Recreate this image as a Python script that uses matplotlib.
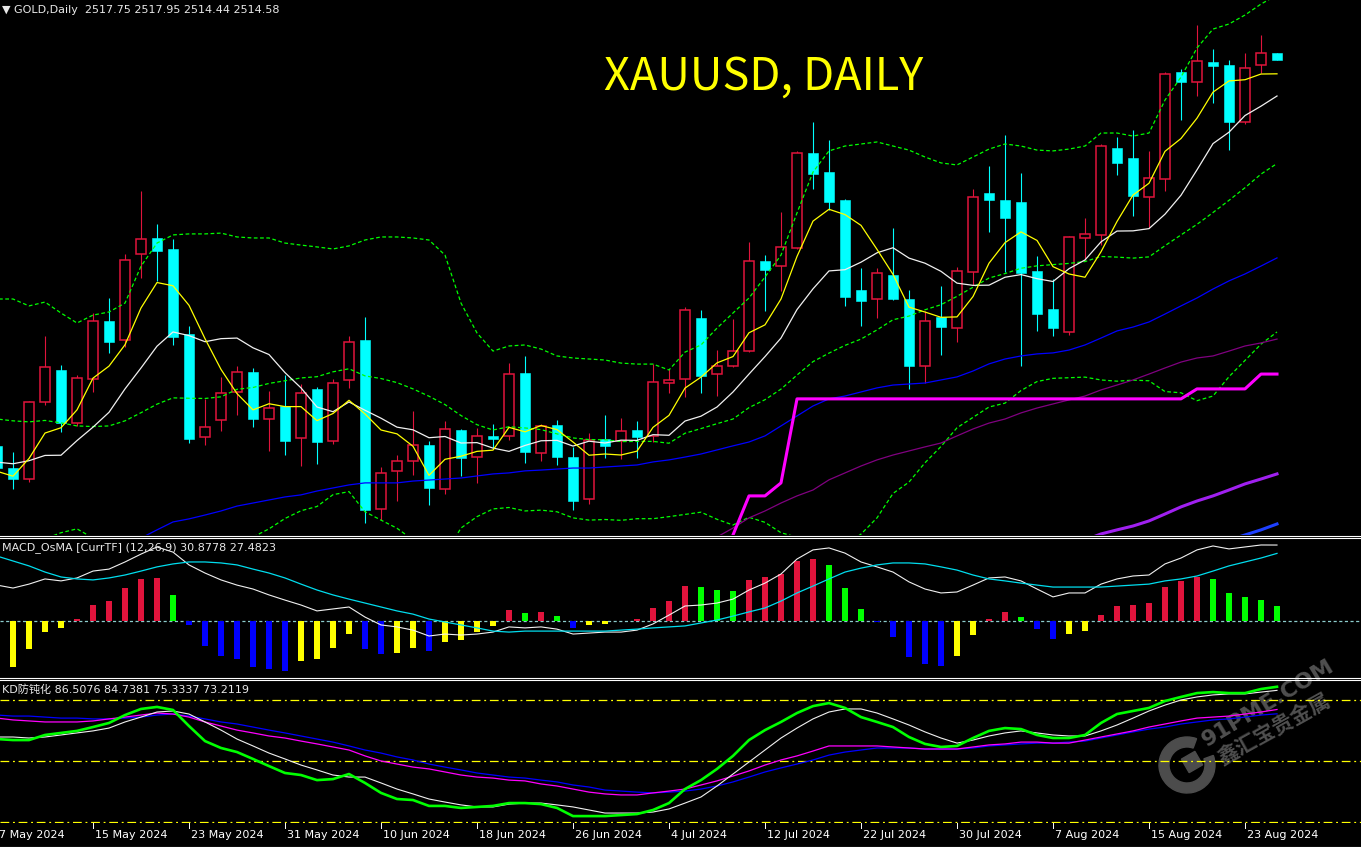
import numpy as np
import pandas as pd
import matplotlib
matplotlib.use("Agg")
import matplotlib.pyplot as plt
from matplotlib.lines import Line2D
from matplotlib.patches import Rectangle, Wedge, RegularPolygon

W, H = 1361, 848

# trading days shown on the chart, 7 May 2024 .. 27 Aug 2024 (bar -1 .. 79)
dates = pd.bdate_range("2024-05-07", "2024-08-27")

opens = [2324.6, 2313.8, 2308.4, 2346.3, 2362.0, 2336.0, 2357.6, 2386.0, 2376.7, 2419.0,
         2427.0, 2421.5, 2379.7, 2329.0, 2337.5, 2351.3, 2361.0, 2338.0, 2344.3, 2328.6,
         2352.6, 2327.0, 2357.0, 2376.7, 2293.7, 2312.3, 2317.2, 2325.0, 2303.5, 2332.5,
         2319.2, 2329.5, 2329.5, 2360.5, 2321.2, 2334.9, 2319.2, 2298.6, 2328.0, 2327.0,
         2332.5, 2329.5, 2355.6, 2357.6, 2387.6, 2360.0, 2364.0, 2371.3, 2415.6, 2413.0,
         2422.0, 2468.7, 2459.3, 2445.6, 2401.3, 2396.9, 2408.7, 2396.9, 2364.0, 2388.0,
         2382.6, 2410.2, 2449.0, 2445.6, 2444.6, 2410.7, 2392.0, 2380.7, 2426.9, 2428.4,
         2471.0, 2466.2, 2447.0, 2455.9, 2508.5, 2503.6, 2513.4, 2511.9, 2483.9, 2511.9,
         2517.75]
highs = [2326.5, 2321.7, 2347.0, 2378.7, 2364.5, 2359.5, 2390.0, 2397.4, 2419.0, 2450.0,
         2433.8, 2426.4, 2383.6, 2347.7, 2358.6, 2364.0, 2363.0, 2351.7, 2359.5, 2355.0,
         2353.6, 2357.6, 2378.7, 2388.0, 2314.3, 2320.0, 2341.8, 2327.0, 2336.9, 2333.0,
         2333.5, 2335.5, 2365.4, 2368.9, 2335.5, 2337.4, 2324.0, 2331.0, 2339.9, 2338.4,
         2337.0, 2365.0, 2362.5, 2393.0, 2391.5, 2371.8, 2387.0, 2425.0, 2418.5, 2439.7,
         2469.7, 2483.9, 2475.0, 2446.0, 2412.0, 2412.0, 2431.8, 2401.3, 2391.0, 2403.3,
         2412.7, 2451.0, 2462.3, 2477.5, 2458.8, 2418.0, 2406.7, 2428.0, 2436.7, 2473.0,
         2476.5, 2480.0, 2469.7, 2508.5, 2510.0, 2531.6, 2519.8, 2514.4, 2517.8, 2526.7,
         2517.95]
lows = [2307.0, 2303.5, 2306.9, 2344.8, 2331.5, 2334.5, 2351.2, 2370.4, 2373.3, 2407.0,
        2405.7, 2374.3, 2326.0, 2325.1, 2332.0, 2340.0, 2334.0, 2322.2, 2320.2, 2314.8,
        2315.8, 2325.6, 2353.0, 2286.8, 2288.3, 2297.6, 2310.4, 2295.6, 2301.0, 2310.0,
        2306.4, 2323.6, 2327.5, 2316.3, 2317.3, 2315.3, 2293.2, 2296.0, 2318.7, 2318.0,
        2318.7, 2326.6, 2350.7, 2348.7, 2350.7, 2349.2, 2363.5, 2371.0, 2391.0, 2401.0,
        2421.5, 2451.0, 2440.7, 2393.4, 2383.6, 2387.6, 2396.4, 2352.7, 2355.6, 2369.4,
        2376.0, 2403.8, 2429.8, 2410.2, 2364.0, 2381.0, 2378.7, 2379.0, 2416.0, 2423.4,
        2457.9, 2437.7, 2431.8, 2450.0, 2484.9, 2496.7, 2493.2, 2470.0, 2483.0, 2508.0,
        2514.44]
closes = [2313.8, 2308.4, 2346.3, 2363.5, 2336.0, 2358.0, 2386.0, 2376.0, 2416.0, 2426.4,
          2420.5, 2378.2, 2328.0, 2334.0, 2350.8, 2361.0, 2338.0, 2343.3, 2327.0, 2350.7,
          2326.6, 2355.6, 2375.8, 2293.2, 2311.4, 2317.2, 2325.0, 2304.0, 2333.0, 2318.7,
          2329.5, 2328.0, 2360.0, 2321.7, 2334.4, 2319.2, 2297.6, 2327.5, 2324.6, 2332.0,
          2329.0, 2356.0, 2357.0, 2391.5, 2359.0, 2364.0, 2371.3, 2415.6, 2411.0, 2422.5,
          2468.7, 2458.4, 2444.6, 2397.9, 2395.9, 2409.7, 2396.9, 2364.0, 2386.0, 2383.0,
          2410.7, 2447.0, 2445.6, 2436.7, 2409.7, 2389.5, 2382.6, 2427.4, 2428.9, 2472.0,
          2464.0, 2447.5, 2456.4, 2507.5, 2503.6, 2513.9, 2511.4, 2483.9, 2510.5, 2517.8,
          2514.58]

# indicator lines
ma_yellow = [2312.2, 2309.8, 2318.5, 2331.0, 2333.6, 2342.4, 2358.0, 2363.9, 2374.4, 2392.5,
             2405.0, 2403.4, 2393.8, 2377.4, 2362.3, 2350.4, 2342.4, 2345.4, 2344.0, 2344.0,
             2337.1, 2340.6, 2347.1, 2340.4, 2332.5, 2330.6, 2324.5, 2310.2, 2318.1, 2319.6,
             2322.0, 2322.6, 2333.8, 2331.6, 2334.7, 2332.7, 2326.6, 2320.1, 2320.7, 2320.2,
             2322.1, 2333.8, 2339.7, 2353.1, 2358.5, 2365.5, 2368.6, 2380.3, 2384.2, 2396.9,
             2417.8, 2435.2, 2441.0, 2438.4, 2433.1, 2421.3, 2409.0, 2392.9, 2390.5, 2387.9,
             2388.1, 2398.1, 2414.5, 2424.6, 2429.9, 2425.7, 2412.8, 2409.2, 2407.6, 2420.1,
             2435.0, 2448.0, 2453.8, 2469.5, 2475.8, 2485.8, 2498.6, 2504.1, 2504.7, 2507.5,
             2507.6]
ma_white = [2316.7, 2315.9, 2317.4, 2320.0, 2320.1, 2327.3, 2333.9, 2341.2, 2352.7, 2363.0,
            2373.7, 2380.7, 2378.9, 2375.9, 2377.4, 2377.7, 2372.9, 2369.6, 2360.7, 2353.2,
            2343.8, 2341.5, 2346.3, 2342.2, 2338.3, 2333.9, 2332.6, 2328.7, 2329.3, 2326.1,
            2326.3, 2323.6, 2322.0, 2324.9, 2327.2, 2327.4, 2324.6, 2327.0, 2326.1, 2327.5,
            2327.4, 2330.2, 2329.9, 2336.9, 2339.3, 2343.8, 2351.2, 2360.0, 2368.6, 2377.7,
            2391.7, 2401.9, 2410.7, 2411.3, 2415.0, 2419.6, 2422.1, 2417.0, 2414.5, 2410.5,
            2404.7, 2403.6, 2403.7, 2407.6, 2408.9, 2406.9, 2405.5, 2411.8, 2416.1, 2425.0,
            2430.3, 2430.4, 2431.5, 2438.6, 2447.9, 2460.4, 2473.3, 2478.9, 2487.1, 2491.7,
            2496.7]
bb_mid = [2337.9, 2337.0, 2336.5, 2337.2, 2336.0, 2334.5, 2334.2, 2334.5, 2337.0, 2341.0,
          2345.2, 2348.3, 2348.1, 2348.0, 2348.8, 2352.5, 2353.4, 2355.4, 2356.7, 2358.1,
          2358.7, 2361.1, 2362.6, 2359.1, 2357.8, 2355.8, 2352.7, 2349.1, 2345.0, 2339.6,
          2335.1, 2332.5, 2334.1, 2333.5, 2332.7, 2330.6, 2328.6, 2327.8, 2327.7, 2326.8,
          2326.9, 2326.9, 2326.0, 2330.9, 2333.2, 2335.6, 2337.9, 2343.5, 2347.4, 2352.6,
          2359.5, 2366.1, 2370.3, 2374.1, 2377.2, 2381.7, 2386.7, 2388.5, 2391.6, 2394.1,
          2398.2, 2402.7, 2407.2, 2409.4, 2412.0, 2413.2, 2413.8, 2414.4, 2415.3, 2417.8,
          2417.5, 2417.0, 2417.6, 2423.1, 2428.4, 2433.6, 2439.4, 2445.4, 2451.6, 2458.3,
          2463.5]
bb_up = [2396.9, 2396.9, 2393.5, 2395.4, 2390.0, 2385.1, 2389.0, 2390.5, 2394.9, 2413.0,
         2424.4, 2428.4, 2428.9, 2428.9, 2429.3, 2427.4, 2426.9, 2426.9, 2424.4, 2423.4,
         2422.5, 2421.5, 2423.0, 2425.9, 2427.4, 2427.4, 2426.9, 2425.9, 2418.5, 2394.9,
         2380.2, 2371.3, 2373.8, 2374.3, 2372.3, 2368.9, 2367.9, 2367.4, 2366.9, 2365.4,
         2364.9, 2364.9, 2362.0, 2370.8, 2374.3, 2382.6, 2390.0, 2397.4, 2407.7, 2418.5,
         2439.2, 2459.3, 2469.7, 2472.1, 2473.1, 2474.1, 2472.1, 2470.1, 2466.7, 2463.8,
         2462.8, 2466.7, 2470.6, 2473.1, 2472.1, 2470.1, 2469.7, 2470.6, 2472.1, 2478.5,
         2478.5, 2477.0, 2478.5, 2494.7, 2506.0, 2520.3, 2529.6, 2532.1, 2536.5, 2541.9,
         2546.3]
bb_low = [2278.9, 2277.1, 2279.5, 2279.0, 2282.0, 2283.9, 2279.4, 2278.5, 2279.1, 2269.0,
          2266.0, 2268.2, 2267.3, 2267.0, 2268.2, 2277.6, 2279.9, 2283.9, 2289.0, 2292.8,
          2294.9, 2300.7, 2302.2, 2292.3, 2288.2, 2284.2, 2278.5, 2272.3, 2271.5, 2284.3,
          2289.9, 2293.7, 2294.4, 2292.7, 2293.1, 2292.3, 2289.3, 2288.2, 2288.5, 2288.1,
          2288.9, 2288.9, 2289.9, 2291.0, 2292.1, 2288.6, 2285.8, 2289.6, 2287.1, 2282.0,
          2279.8, 2272.8, 2270.9, 2276.1, 2281.3, 2289.3, 2301.3, 2306.9, 2316.4, 2324.4,
          2333.6, 2338.7, 2343.8, 2345.7, 2351.9, 2356.3, 2357.9, 2358.2, 2358.5, 2357.1,
          2356.5, 2357.0, 2356.7, 2351.4, 2350.8, 2346.9, 2349.2, 2358.7, 2366.7, 2374.7,
          2380.7]
ma_blue = [2279.4, 2283.4, 2287.3, 2288.8, 2290.7, 2292.7, 2295.1, 2296.6, 2298.1, 2299.6,
           2300.6, 2302.5, 2304.0, 2305.5, 2306.5, 2306.5, 2306.5, 2307.4, 2307.9, 2308.4,
           2308.9, 2309.9, 2310.9, 2311.4, 2312.4, 2312.8, 2313.3, 2313.8, 2313.8, 2314.3,
           2314.8, 2315.3, 2316.8, 2317.8, 2319.2, 2320.7, 2322.7, 2324.7, 2326.6, 2329.6,
           2334.5, 2339.4, 2344.3, 2347.8, 2349.2, 2351.2, 2353.2, 2354.6, 2355.1, 2355.6,
           2357.1, 2358.6, 2361.5, 2365.0, 2367.4, 2368.9, 2369.9, 2370.4, 2371.8, 2374.3,
           2377.7, 2381.2, 2383.1, 2385.6, 2389.5, 2393.5, 2397.4, 2401.8, 2405.8, 2409.2,
           2413.1, 2417.1]                          # from bar 8
ma_purple = [2279.9, 2284.3, 2289.3, 2292.7, 2296.6, 2300.1, 2303.0, 2308.0, 2311.4, 2314.8,
             2317.8, 2320.2, 2322.2, 2324.2, 2326.1, 2329.6, 2333.0, 2335.9, 2337.9, 2340.9,
             2343.3, 2345.3, 2347.3, 2349.2, 2352.2, 2354.6, 2357.1, 2360.0, 2363.0, 2365.9,
             2367.9, 2368.9, 2371.3, 2373.8, 2375.3, 2377.2]   # from bar 44
step_magenta = [2262.0, 2280.9, 2300.1, 2300.1, 2306.5, 2347.8, 2347.8, 2347.8, 2347.8, 2347.8,
                2347.8, 2347.8, 2347.8, 2347.8, 2347.8, 2347.8, 2347.8, 2347.8, 2347.8, 2347.8,
                2347.8, 2347.8, 2347.8, 2347.8, 2347.8, 2347.8, 2347.8, 2347.8, 2347.8, 2347.8,
                2352.7, 2352.7, 2352.7, 2352.7, 2360.0, 2360.0]  # from bar 44
ma_violet = [2278.4, 2281.4, 2283.4, 2285.3, 2287.8, 2291.2, 2294.7, 2297.6, 2300.1, 2303.0,
             2306.0, 2308.4, 2310.9]                # from bar 67
ma_deepblue = [2278.4, 2280.9, 2283.4, 2286.3]     # from bar 76

macd_main = [14.6, 13.4, 15.0, 17.1, 16.3, 17.5, 20.3, 21.1, 24.0, 27.2,
             30.1, 28.0, 22.8, 19.5, 16.7, 14.6, 13.0, 10.6, 8.5, 6.5,
             4.1, 4.9, 5.7, 1.6, -1.6, -2.4, -3.7, -6.1, -5.3, -5.7,
             -5.3, -4.5, -2.4, -2.8, -2.4, -3.3, -5.3, -4.9, -4.5, -4.5,
             -3.7, -1.2, 2.4, 6.1, 6.5, 7.3, 8.9, 12.6, 15.4, 19.1,
             25.2, 28.9, 29.7, 27.6, 24.0, 22.0, 19.9, 15.9, 13.0, 11.4,
             11.8, 14.6, 17.5, 17.9, 16.3, 13.0, 9.8, 11.4, 11.4, 15.0,
             17.1, 18.3, 18.7, 23.2, 25.6, 28.9, 30.5, 29.3, 30.1, 30.9,
             30.88]
macd_signal = [26.4, 24.4, 22.4, 19.9, 17.9, 17.1, 16.7, 17.5, 18.7, 20.3,
               22.0, 23.2, 24.0, 24.0, 23.6, 22.8, 21.1, 19.5, 17.5, 15.0,
               12.6, 10.6, 8.9, 7.3, 5.7, 4.1, 2.8, 0.8, -0.4, -1.6,
               -2.8, -4.1, -4.5, -4.1, -4.1, -4.1, -4.1, -4.1, -4.1, -3.7,
               -3.3, -2.8, -2.4, -2.0, -0.8, 0.4, 2.0, 3.7, 5.3, 8.1,
               11.4, 14.2, 17.1, 19.9, 21.5, 22.8, 23.6, 23.6, 23.2, 22.0,
               20.7, 18.7, 17.1, 16.3, 15.4, 14.6, 13.8, 13.8, 13.8, 13.8,
               14.2, 14.6, 15.0, 16.3, 17.1, 18.3, 20.3, 22.4, 24.0, 25.6,
               27.48]
osma = [-18.7, -11.4, -4.5, -2.8, 0.8, 6.5, 8.1, 13.4, 17.1, 17.5,
        10.6, -1.6, -10.2, -14.2, -15.4, -18.7, -19.5, -20.3, -16.3, -15.4,
        -11.0, -5.3, -11.4, -13.4, -13.0, -11.0, -12.2, -8.5, -7.7, -4.5,
        -2.0, 4.5, 3.3, 3.7, 2.0, -2.8, -1.6, -1.2, 0.2, 0.8,
        5.3, 8.1, 14.2, 13.8, 12.6, 12.2, 16.7, 17.9, 19.1, 24.4,
        25.2, 22.8, 13.4, 4.9, -0.4, -6.5, -14.6, -17.5, -18.3, -14.2,
        -5.7, 0.8, 3.7, 1.6, -3.3, -7.3, -5.3, -4.1, 2.4, 6.1,
        6.5, 7.3, 13.8, 16.3, 17.9, 17.1, 11.4, 9.8, 8.5, 6.1]   # from bar 0

kd_green = [60.8, 60.3, 60.3, 62.8, 63.8, 64.8, 66.7, 68.7, 72.6, 75.6,
            76.6, 75.1, 67.2, 59.8, 56.4, 54.4, 51.0, 47.5, 44.1, 43.1,
            40.6, 41.1, 43.6, 39.2, 34.3, 31.3, 30.8, 27.9, 27.9, 26.9,
            27.4, 27.9, 29.3, 29.3, 28.8, 26.9, 22.9, 22.9, 22.9, 23.4,
            23.9, 25.9, 29.3, 36.2, 40.6, 46.1, 52.5, 60.3, 65.2, 69.2,
            73.6, 77.0, 78.5, 76.1, 71.6, 69.2, 66.7, 61.8, 58.4, 56.9,
            57.4, 61.3, 64.8, 66.2, 65.7, 62.8, 61.3, 61.3, 62.8, 68.7,
            73.1, 74.6, 76.1, 79.5, 81.5, 83.4, 83.9, 83.4, 83.4, 85.4,
            86.51]
kd_white = [61.8, 61.8, 61.3, 61.8, 62.8, 63.8, 64.8, 66.2, 69.2, 71.6,
            74.1, 74.6, 73.1, 69.2, 65.2, 60.8, 57.4, 53.9, 51.0, 48.0,
            45.6, 43.1, 42.1, 42.1, 39.2, 36.2, 33.8, 31.3, 29.8, 28.4,
            27.4, 27.4, 28.8, 29.3, 29.3, 28.4, 27.4, 25.9, 24.4, 24.4,
            24.4, 24.9, 26.4, 29.3, 32.3, 37.7, 43.6, 49.5, 55.4, 61.3,
            66.2, 70.7, 74.1, 75.6, 75.6, 73.6, 70.7, 67.7, 64.3, 61.3,
            58.8, 60.3, 62.3, 63.8, 64.8, 63.8, 62.8, 62.3, 62.3, 64.8,
            67.7, 71.1, 74.6, 77.5, 80.0, 81.5, 82.5, 83.0, 83.0, 83.9,
            84.74]
kd_magenta = [71.1, 70.2, 69.7, 69.2, 69.2, 69.2, 69.7, 70.7, 71.6, 72.6,
              73.6, 73.1, 71.6, 69.2, 67.2, 65.2, 63.8, 62.3, 61.3, 59.8,
              58.4, 56.9, 55.4, 52.5, 50.0, 48.5, 47.0, 46.1, 44.6, 43.1,
              42.1, 41.6, 40.6, 40.2, 38.7, 37.7, 36.2, 34.7, 33.8, 33.3,
              33.3, 34.3, 35.2, 36.2, 38.2, 40.2, 42.6, 45.1, 48.0, 50.5,
              52.5, 54.9, 57.4, 57.4, 57.4, 57.4, 56.9, 56.4, 55.9, 55.9,
              55.9, 56.9, 57.9, 58.4, 59.3, 59.3, 58.8, 58.8, 60.3, 61.8,
              63.3, 64.8, 66.7, 68.2, 69.7, 71.1, 71.6, 72.1, 73.1, 74.1,
              75.33]
kd_blue = [72.6, 72.1, 72.1, 71.6, 71.1, 71.1, 70.7, 70.7, 71.1, 71.6,
           72.6, 73.1, 72.1, 70.7, 69.2, 68.2, 66.7, 65.2, 63.8, 62.3,
           60.8, 59.3, 57.4, 55.4, 53.9, 52.0, 50.5, 48.5, 47.0, 45.6,
           44.1, 43.1, 42.1, 41.6, 40.6, 39.7, 38.2, 37.2, 35.7, 35.2,
           34.7, 34.3, 34.7, 35.2, 36.2, 37.7, 39.7, 42.1, 44.6, 46.6,
           48.5, 50.5, 52.9, 54.4, 55.4, 56.4, 56.4, 56.4, 55.9, 55.9,
           55.9, 56.4, 57.4, 57.9, 58.4, 58.8, 58.8, 59.3, 59.8, 61.3,
           62.8, 64.3, 65.7, 66.7, 68.2, 69.2, 70.2, 70.7, 71.6, 72.6,
           73.21]
kd_levels = [80, 50, 20]

header = "\u25BC GOLD,Daily  2517.75 2517.95 2514.44 2514.58"
macd_label = "MACD_OsMA [CurrTF] (12,26,9) 30.8778 27.4823"
kd_label = "KD\u9632\u949d\u5316 86.5076 84.7381 75.3337 73.2119"
title = "XAUUSD, DAILY"


bars = np.arange(-1, len(closes) - 1)


def pad(first_bar, vals):
    return np.array([np.nan] * (first_bar + 1) + vals)


RED = '#E0143C'
CYAN = '#00FFFF'
LIME = '#00FF00'
font = ['DejaVu Sans', 'Noto Sans CJK SC']

fig = plt.figure(figsize=(W / 100, H / 100), dpi=100, facecolor='black')

# background layer (watermark)
bg = fig.add_axes([0, 0, 1, 1], zorder=0)
bg.set_xlim(0, W)
bg.set_ylim(H, 0)
bg.axis('off')
bg.add_patch(Wedge((1187, 765), 28, -20, 290, width=10, color='#4c4c4c'))
bg.add_patch(RegularPolygon((1192, 762), 4, radius=11, orientation=np.radians(15), color='#4c4c4c'))
bg.text(1207, 747, "91PME.COM", rotation=31, rotation_mode='anchor', fontsize=16,
        fontweight='bold', color='#505050', ha='left', va='baseline')
bg.text(1222, 765, "\u946b\u6c47\u5b9d\u8d35\u91d1\u5c5e", rotation=29, rotation_mode='anchor',
        fontsize=15, fontweight='bold', color='#505050', ha='left', va='baseline',
        family='Noto Sans CJK SC')

xlim = (-13 / 16, (W - 13) / 16)


def panel(top, bottom, ylim):
    ax = fig.add_axes([0, 1 - bottom / H, 1, (bottom - top) / H], zorder=1)
    ax.set_facecolor('none')
    ax.set_xlim(*xlim)
    ax.set_ylim(*ylim)
    ax.axis('off')
    return ax


# ---- price panel
ax = panel(0, 535, (2280.88, 2543.89))

for x, o, h, l, c in zip(bars, opens, highs, lows, closes):
    if c >= o:
        ax.vlines(x, l, h, color=RED, lw=0.8, zorder=3)
        ax.add_patch(Rectangle((x - 0.31, o), 0.62, max(c - o, 0.4), facecolor='black',
                               edgecolor=RED, lw=1.1, zorder=4))
    else:
        ax.vlines(x, l, h, color=CYAN, lw=0.8, zorder=3)
        ax.add_patch(Rectangle((x - 0.34, c), 0.68, max(o - c, 0.4), facecolor=CYAN,
                               edgecolor=CYAN, lw=0.4, zorder=4))

dash = (0, (3, 2))
ax.plot(bars, bb_up, color=LIME, lw=0.9, ls=dash, zorder=5)
ax.plot(bars, bb_mid, color=LIME, lw=0.9, ls=dash, zorder=5)
ax.plot(bars, bb_low, color=LIME, lw=0.9, ls=dash, zorder=5)
ax.plot(bars, pad(8, ma_blue), color='#0000FF', lw=0.9, zorder=5)
ax.plot(bars, pad(44, ma_purple), color='#800080', lw=0.9, zorder=5)
ax.plot(bars, pad(44, step_magenta), color='#FF00FF', lw=2.2, zorder=5)
ax.plot(bars, pad(67, ma_violet), color='#A020F0', lw=2.2, zorder=5)
ax.plot(bars, pad(76, ma_deepblue), color='#1E40FF', lw=2.2, zorder=5)
ax.plot(bars, ma_white, color='#F0F0F0', lw=0.9, zorder=6)
ax.plot(bars, ma_yellow, color='#FFFF00', lw=0.9, zorder=6)

# ---- MACD panel
ax2 = panel(538, 677, (-22.76, 33.74))
hist = pad(0, osma)
cols = []
for k in range(len(hist)):
    if np.isnan(hist[k]):
        cols.append('black')
        continue
    prev = hist[k - 1] if k > 0 and not np.isnan(hist[k - 1]) else hist[k] - 1
    if hist[k] >= 0:
        cols.append(RED if hist[k] >= prev else LIME)
    else:
        cols.append('#0000FF' if hist[k] < prev else '#FFFF00')
ax2.bar(bars, np.nan_to_num(hist), width=0.36, color=cols, zorder=3)
ax2.axhline(0, color='#8ccccc', lw=0.9, ls=(0, (2.5, 2)), zorder=2)
ax2.plot(bars, macd_main, color='#F0F0F0', lw=0.8, zorder=4)
ax2.plot(bars, macd_signal, color='#00DDEE', lw=0.9, zorder=4)

# ---- KD panel
ax3 = panel(680, 823, (19.5, 89.84))
for lv in kd_levels:
    ax3.axhline(lv, color='#FFFF00', lw=0.9, ls=(0, (7, 3, 1.5, 3)), zorder=2)
ax3.plot(bars, kd_blue, color='#0000FF', lw=0.9, zorder=3)
ax3.plot(bars, kd_magenta, color='#FF00FF', lw=0.9, zorder=3)
ax3.plot(bars, kd_white, color='#F0F0F0', lw=0.8, zorder=4)
ax3.plot(bars, kd_green, color=LIME, lw=1.9, zorder=4)

# ---- frame lines and texts
for yy in [535.5, 537.8, 677.5, 679.8, 846.5]:
    fig.add_artist(Line2D([0, 1], [1 - yy / H, 1 - yy / H], color='white', lw=0.8, zorder=5))

for k, d in enumerate(dates):
    if k % 6 == 0:
        xp = 13 + 16 * (k - 1)
        fig.add_artist(Line2D([xp / W, xp / W], [1 - 823 / H, 1 - 828 / H], color='white', lw=0.7))
        fig.text((xp + 2) / W, 1 - 835 / H, "%d %s %d" % (d.day, d.strftime('%b'), d.year),
                 color='white', fontsize=8, ha='left', va='center', family=font)

fig.text(2 / W, 1 - 10 / H, header, color='#E8E8E8', fontsize=8, ha='left', va='center', family=font)
fig.text(2 / W, 1 - 548 / H, macd_label, color='#E8E8E8', fontsize=8, ha='left', va='center', family=font)
fig.text(2 / W, 1 - 690 / H, kd_label, color='#E8E8E8', fontsize=8, ha='left', va='center', family=font)
fig.text(764 / W, 1 - 90 / H, title, color='#FFFF00', fontsize=32.5, ha='center', va='baseline',
         family=['Noto Sans CJK SC', 'DejaVu Sans'])

fig.savefig("out.png", dpi=100, facecolor='black')
